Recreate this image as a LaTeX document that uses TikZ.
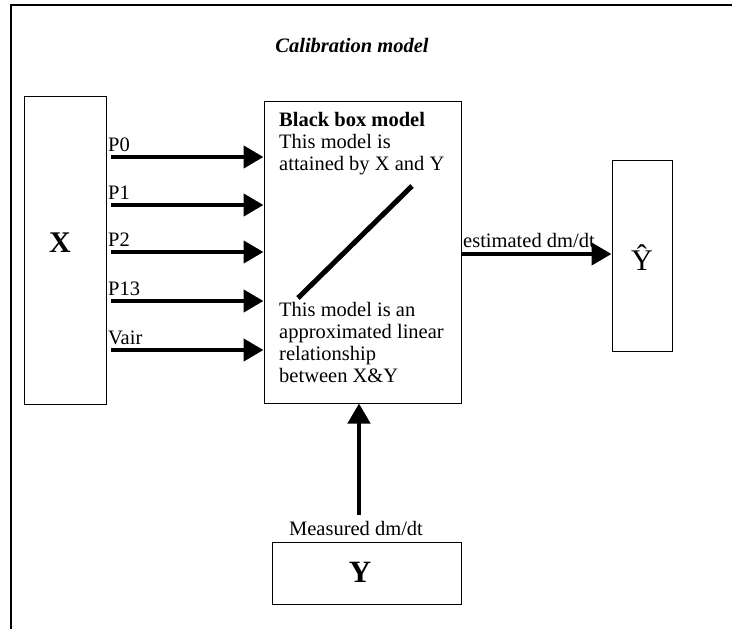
\documentclass[tikz,border=0pt]{standalone}
\usepackage{fontspec}
\setmainfont{Liberation Serif}
\usetikzlibrary{arrows.meta}
\begin{document}
\begin{tikzpicture}[x=1pt,y=-1pt,
  box/.style={draw,line width=1pt,inner sep=0pt},
  arr/.style={line width=4.5pt,-{Triangle[length=20pt,width=22pt]}},
  lbl/.style={font=\fontsize{20.5}{22}\selectfont,inner sep=0pt},
  bodytxt/.style={font=\fontsize{20.5}{22}\selectfont,inner sep=0pt,align=left,anchor=north west}]
\useasboundingbox (0,0) rectangle (732,629);
% outer frame
\draw[line width=1.3pt] (11,629) -- (11,5) -- (732,5);
% title
\node[lbl,font=\fontsize{20.5}{22}\selectfont\bfseries\itshape] (title) at (352,46) {Calibration model};
% boxes
\node[box,minimum width=82pt,minimum height=308pt] (xbox) at (65,250) {};
\node[lbl,font=\fontsize{30}{32}\selectfont\bfseries] (xlab) at (60,243) {X};
\node[box,minimum width=197pt,minimum height=302pt] (bb) at (362.5,252) {};
\node[box,minimum width=60pt,minimum height=191pt] (yhat) at (642,255.5) {};
\node[lbl,font=\fontsize{30}{32}\selectfont] (yhatlab) at (642,258) {Ŷ};
\node[box,minimum width=189pt,minimum height=62pt] (ybox) at (366.5,573) {};
\node[lbl,font=\fontsize{31}{32}\selectfont\bfseries] (ylab) at (360,572) {Y};
% black box texts
\node[bodytxt] (bbtop) at (279,112) {\textbf{Black box model}\\This model is\\attained by X and Y};
\node[bodytxt] (bbbot) at (279,302) {This model is an\\approximated linear\\relationship\\between X\&Y};
\coordinate (d1) at (298,298);
\coordinate (d2) at (412,186);
\draw[line width=5pt] (d1) -- (d2);
% input arrows
\foreach \nm/\yy/\txt in {p0/157/P0,p1/205/P1,p2/252/P2,p13/301/P13,vair/350/Vair}{
  \coordinate (\nm s) at (111,\yy);
  \draw[arr] (\nm s) -- (\nm s -| bb.west);
  \node[lbl,anchor=base west] (\nm l) at (108,\yy-6) {\txt};
}
% output arrow
\coordinate (outs) at (bb.east |- 0,254);
\draw[arr] (outs) -- (outs -| yhat.west);
\node[lbl,anchor=base west] (outl) at (463,247) {estimated dm/dt};
% measured arrow
\coordinate (ms) at (359,515);
\draw[arr] (ms) -- (ms |- bb.south);
\node[lbl,anchor=base] (ml) at (356,535) {Measured dm/dt};
\end{tikzpicture}
\end{document}
